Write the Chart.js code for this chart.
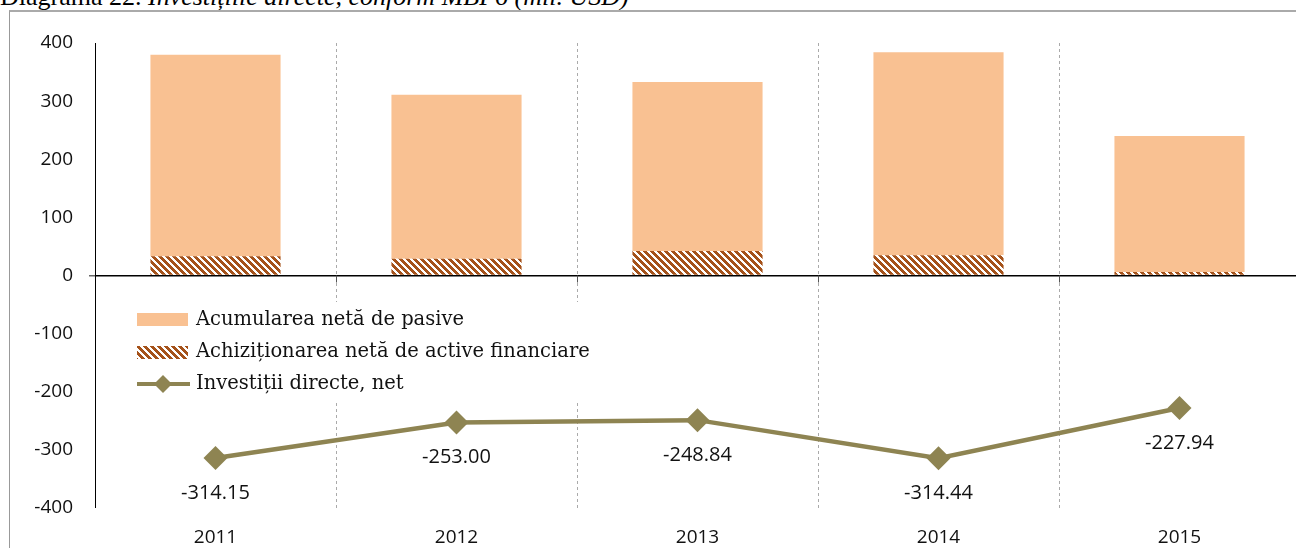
<!DOCTYPE html>
<html>
<head>
<meta charset="utf-8">
<script src="https://cdn.jsdelivr.net/npm/chart.js@4"></script>
<style>
  html, body { margin: 0; padding: 0; background: #fff; overflow: hidden; }
  body { width: 1296px; height: 548px; position: relative; }
  #titlu { position: absolute; left: 0; top: -18px; font-family: "Liberation Serif", serif; font-size: 26px; line-height: 30px; white-space: nowrap; color: #000; }
  #titlu i { font-style: italic; }
  #rama { position: absolute; left: 9px; top: 10px; width: 1400px; height: 600px; border-left: 1px solid #999; border-top: 2px solid #aaa; }
  #wrap { position: absolute; left: 0; top: 0; width: 1300px; height: 548px; }
</style>
</head>
<body>
<div id="titlu">Diagrama 22. <i>Investițiile directe, conform MBP6 (mil. USD)</i></div>
<div id="rama"></div>
<div id="wrap"><canvas id="grafic"></canvas></div>
<script>
// ====== Date ======
const ani = ["2011", "2012", "2013", "2014", "2015"];
const activeFinanciare = [33, 29, 42, 35, 6];
const pasive = [347, 282, 291, 349, 234];
const investitiiNet = [-314.15, -253.00, -248.84, -314.44, -227.94];
const yTicks = [400, 300, 200, 100, 0, -100, -200, -300, -400];

const culoarePasive = "#f9c192";
const culoareHasura = "#a5521a";
const culoareLinie = "#8e8452";

// ====== Hasura (dungi diagonale) ======
function creeazaHasura() {
    const n = 7;
    const c = document.createElement("canvas");
    c.width = n; c.height = n;
    const ctx = c.getContext("2d");
    ctx.fillStyle = "#fff";
    ctx.fillRect(0, 0, n, n);
    ctx.fillStyle = culoareHasura;
    for (let y = 0; y < n; y++) {
        for (let x = 0; x < n; x++) {
            if (((x - y) % n + n) % n < 4) ctx.fillRect(x, y, 1, 1);
        }
    }
    return ctx.createPattern(c, "repeat");
}
const hasura = creeazaHasura();

// ====== Grila intre ani, legenda, etichete ======
const pluginLegenda = {
    id: "legendaProprie",
    beforeDatasetsDraw(chart) {
        const ctx = chart.ctx;
        const xs = chart.scales.x, ys = chart.scales.y;
        const area = chart.chartArea;
        const y0 = ys.getPixelForValue(0);
        ctx.save();

        // linii punctate intre categorii
        ctx.strokeStyle = "#aaa";
        ctx.lineWidth = 1;
        ctx.setLineDash([3, 3]);
        for (let i = 1; i < ani.length; i++) {
            const xb = Math.round((xs.getPixelForValue(i - 1) + xs.getPixelForValue(i)) / 2) + 0.5;
            ctx.beginPath(); ctx.moveTo(xb, area.top); ctx.lineTo(xb, area.bottom); ctx.stroke();
        }
        ctx.setLineDash([]);

        // liniuta pe axa zero
        ctx.strokeStyle = "#555";
        for (let i = 1; i < ani.length; i++) {
            const xb = Math.round((xs.getPixelForValue(i - 1) + xs.getPixelForValue(i)) / 2) + 0.5;
            ctx.beginPath(); ctx.moveTo(xb, y0); ctx.lineTo(xb, y0 + 7); ctx.stroke();
        }

        // legenda
        ctx.fillStyle = "#fff";
        ctx.fillRect(125, 302, 500, 100);
        ctx.font = "19.5px 'DejaVu Serif', serif";
        ctx.textBaseline = "middle";
        ctx.fillStyle = culoarePasive;
        ctx.fillRect(137, 313, 51, 13);
        ctx.fillStyle = "#111";
        ctx.fillText("Acumularea netă de pasive", 196, 320);
        ctx.fillStyle = hasura;
        ctx.fillRect(137, 346, 51, 13);
        ctx.fillStyle = "#111";
        ctx.fillText("Achiziționarea netă de active financiare", 196, 352);
        ctx.strokeStyle = culoareLinie;
        ctx.lineWidth = 4;
        ctx.beginPath(); ctx.moveTo(137, 384); ctx.lineTo(190, 384); ctx.stroke();
        ctx.fillStyle = culoareLinie;
        ctx.beginPath();
        ctx.moveTo(163, 375); ctx.lineTo(172, 384); ctx.lineTo(163, 393); ctx.lineTo(154, 384);
        ctx.closePath(); ctx.fill();
        ctx.fillStyle = "#111";
        ctx.fillText("Investiții directe, net", 196, 384);
        ctx.restore();
    },
    afterDatasetsDraw(chart) {
        const ctx = chart.ctx;
        const meta = chart.getDatasetMeta(2);
        ctx.save();
        ctx.font = "20px 'Open Sans', sans-serif";
        ctx.fillStyle = "#111";
        ctx.textAlign = "center";
        ctx.textBaseline = "middle";
        meta.data.forEach((pt, i) => {
            ctx.fillText(investitiiNet[i].toFixed(2), pt.x, pt.y + 35);
        });
        ctx.restore();
    }
};

new Chart(document.getElementById("grafic"), {
    data: {
        labels: ani,
        datasets: [
            {
                type: "bar",
                label: "Achiziționarea netă de active financiare",
                data: activeFinanciare,
                backgroundColor: hasura,
                stack: "bare",
                order: 2,
                categoryPercentage: 1,
                barPercentage: 0.54
            },
            {
                type: "bar",
                label: "Acumularea netă de pasive",
                data: pasive,
                backgroundColor: culoarePasive,
                stack: "bare",
                order: 2,
                categoryPercentage: 1,
                barPercentage: 0.54
            },
            {
                type: "line",
                label: "Investiții directe, net",
                data: investitiiNet,
                borderColor: culoareLinie,
                backgroundColor: culoareLinie,
                borderWidth: 4.5,
                pointStyle: "rectRot",
                pointRadius: 12,
                pointHoverRadius: 12,
                pointBorderWidth: 0,
                stack: "linie",
                order: 0,
                tension: 0,
                clip: false
            }
        ]
    },
    options: {
        responsive: true,
        maintainAspectRatio: false,
        animation: false,
        layout: { autoPadding: false, padding: { top: 43, right: 0, bottom: 0, left: 0 } },
        plugins: {
            legend: { display: false },
            tooltip: { enabled: false },
            title: { display: false }
        },
        scales: {
            x: {
                stacked: true,
                offset: true,
                grid: { display: false },
                border: { display: false },
                ticks: {
                    color: "#111",
                    padding: 10,
                    font: { family: "'Open Sans', sans-serif", size: 19 }
                },
                afterFit: s => { s.height = 40; }
            },
            y: {
                stacked: true,
                min: -400,
                max: 400,
                afterBuildTicks: s => { s.ticks = yTicks.map(v => ({ value: v })); },
                grid: {
                    drawOnChartArea: true,
                    color: ctx => (ctx.tick && ctx.tick.value === 0 ? "#000" : "rgba(0,0,0,0)"),
                    lineWidth: ctx => (ctx.tick && ctx.tick.value === 0 ? 1.5 : 0),
                    drawTicks: true,
                    tickLength: 6,
                    tickColor: "#666"
                },
                border: { display: true, color: "#000", width: 1 },
                ticks: {
                    color: "#111",
                    padding: 16,
                    font: { family: "'Open Sans', sans-serif", size: 19 }
                },
                afterFit: s => { s.width = 95; }
            }
        }
    },
    plugins: [pluginLegenda]
});
</script>
</body>
</html>
